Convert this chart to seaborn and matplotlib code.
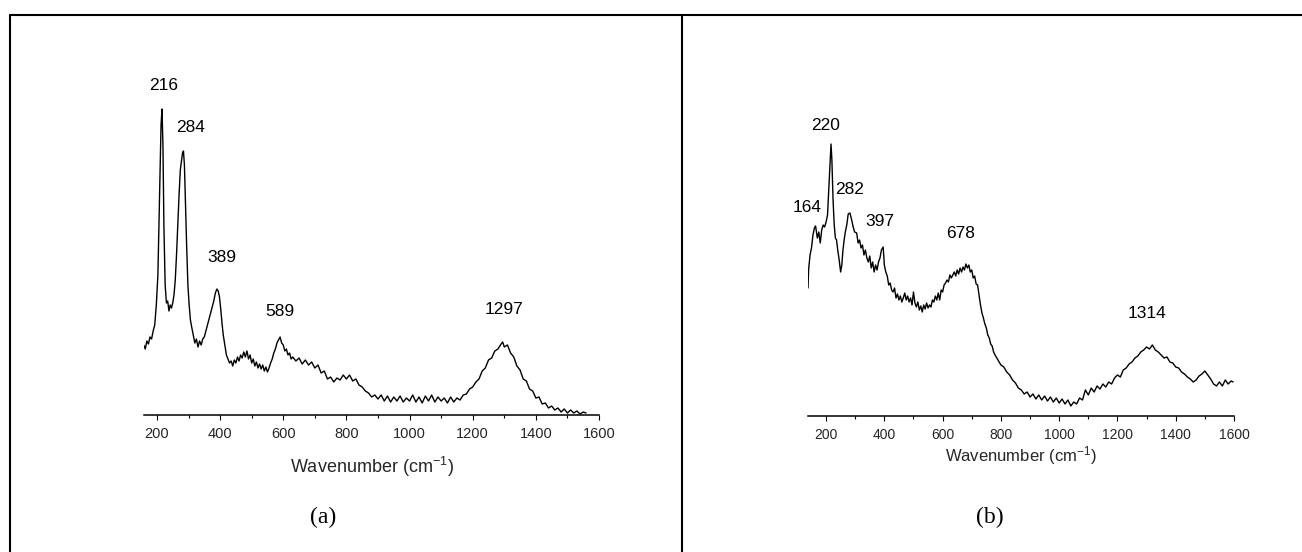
import matplotlib
matplotlib.use("Agg")
import matplotlib.pyplot as plt
from matplotlib.lines import Line2D
from matplotlib.ticker import MultipleLocator
import seaborn as sns
import pandas as pd

# ---------------- data (arbitrary intensity units) ----------------
wn_a = [158,163,168,173,178,183,188,193,198,203,207,210,213,216,219,222,226,230,234,238,242,246,250,254,258,262,
        266,270,274,278,281,284,287,290,294,298,302,306,310,315,320,325,330,335,340,345,350,355,360,365,370,375,
        380,385,390,394,398,402,406,410,415,420,425,430,435,440,445,450,455,460,465,470,475,480,485,490,495,500,
        505,510,515,520,525,530,535,540,545,550,555,560,565,570,575,580,585,590,595,600,605,610,615,620,625,630,
        640,650,660,670,680,690,700,710,720,730,740,750,760,770,780,790,800,810,820,830,840,850,860,870,880,890,
        900,910,920,930,940,950,960,970,980,990,1000,1010,1020,1030,1040,1050,1060,1070,1080,1090,1100,1110,1120,
        1130,1140,1150,1160,1170,1180,1190,1200,1210,1220,1230,1240,1250,1260,1270,1280,1290,1295,1300,1310,1320,
        1330,1340,1350,1360,1370,1380,1390,1400,1410,1420,1430,1440,1450,1460,1470,1480,1490,1500,1510,1520,1530,
        1540,1550,1559]
int_a = [70,66,74,71,78,76,84,90,110,140,200,250,290,306,270,190,130,112,114,104,110,107,112,120,135,160,
         190,220,245,255,262,264,250,215,170,130,110,95,88,80,72,76,68,74,70,76,78,84,90,96,102,108,
         114,122,126,124,118,106,92,80,70,60,56,52,54,49,55,52,58,54,60,57,63,58,64,56,60,52,
         56,49,53,47,51,46,50,44,48,43,47,52,56,62,66,72,75,78,72,70,64,66,60,62,56,58,
         54,57,51,55,50,53,47,50,42,44,36,38,33,37,35,40,36,40,34,36,30,28,24,22,18,20,
         16,20,14,19,13,18,14,19,13,17,14,20,13,18,12,19,14,20,13,18,14,17,12,
         18,13,17,15,20,21,26,28,33,36,44,47,55,57,64,66,71,73,68,70,62,
         58,49,45,36,34,26,24,17,18,11,12,7,9,5,7,3,6,2,5,2,4,
         1,3,2]

wn_b = [138,140,145,150,155,160,164,170,175,180,185,190,195,200,205,210,214,217,220,224,228,232,236,240,245,250,
        254,258,262,266,271,276,282,288,293,298,305,310,315,320,325,330,335,340,345,350,355,360,365,370,375,380,
        385,390,396,400,405,410,415,420,425,430,435,440,445,450,455,460,465,470,475,480,485,490,495,500,505,510,
        515,520,525,530,535,540,545,550,555,560,565,570,575,580,585,590,595,600,605,610,615,620,625,630,640,645,
        650,655,660,665,670,675,680,685,690,695,700,705,710,715,720,725,730,735,740,745,750,755,760,765,770,775,
        780,790,800,810,820,830,840,850,860,870,880,890,900,910,920,930,940,950,960,970,980,990,1000,1010,1020,
        1030,1040,1050,1060,1070,1080,1090,1100,1110,1120,1130,1140,1150,1160,1170,1180,1190,1200,1210,1220,1230,
        1240,1250,1260,1270,1280,1290,1300,1310,1320,1330,1340,1350,1360,1370,1380,1390,1400,1410,1420,1430,1440,
        1450,1460,1470,1480,1490,1500,1510,1520,1530,1540,1550,1560,1570,1580,1590,1597]
int_b = [128,146,161,168,181,188,190,178,184,173,186,191,189,194,201,231,256,272,256,216,191,178,176,166,156,144,
         151,166,176,184,191,202,203,196,189,184,183,173,176,168,171,161,166,158,154,160,148,154,144,151,146,154,
         158,166,169,151,144,140,131,133,126,124,128,118,122,116,120,114,118,123,116,120,114,118,111,124,113,109,
         114,106,110,104,111,107,113,108,111,109,116,114,120,116,123,116,126,124,131,133,136,134,141,138,144,140,
         146,142,148,144,149,146,152,148,151,144,146,138,140,132,131,121,111,103,98,92,88,81,78,72,70,64,
         61,56,51,49,44,41,36,33,28,26,22,24,19,22,17,21,16,20,15,19,14,18,13,17,12,
         16,10,14,12,18,16,26,21,28,24,30,27,32,29,34,32,38,41,39,46,48,
         52,54,58,60,64,66,69,67,71,66,64,61,58,59,54,53,49,48,44,42,39,
         37,34,36,40,42,45,41,37,32,30,34,30,36,32,35,34]

peaks_a = ["216", "284", "389", "589", "1297"]
peak_lab_x_a = [222, 308, 406, 590, 1298]
peak_lab_y_a = [330, 287, 158, 103, 106]

peaks_b = ["164", "220", "282", "397", "678", "1314"]
peak_lab_x_b = [135, 197, 279, 385, 660, 1302]
peak_lab_y_b = [209, 290, 227, 194, 182, 103]

xticks = [200, 400, 600, 800, 1000, 1200, 1400, 1600]
xlabel = "Wavenumber (cm$^{-1}$)"
captions = ["(a)", "(b)"]

# ---------------- style ----------------
sns.set_theme(style="white")
plt.rcParams["font.family"] = ["Liberation Sans", "DejaVu Sans"]
plt.rcParams["mathtext.default"] = "regular"

W, H = 1302, 552
fig = plt.figure(figsize=(W / 100, H / 100), dpi=100)
fig.patch.set_facecolor("white")


def ax_rect(left, right, top, bottom):
    return [left / W, 1 - bottom / H, (right - left) / W, (bottom - top) / H]


panels = [
    dict(rect=ax_rect(144, 599, 40, 415), xlim=(159, 1600), ylim=(0, 375), wn=wn_a, inten=int_a,
         labels=peaks_a, lx=peak_lab_x_a, ly=peak_lab_y_a, xl_size=13, xl_y=-0.107, tick_size=10.5,
         cap_x=323),
    dict(rect=ax_rect(808, 1234, 40, 416), xlim=(138, 1600), ylim=(0, 376), wn=wn_b, inten=int_b,
         labels=peaks_b, lx=peak_lab_x_b, ly=peak_lab_y_b, xl_size=12, xl_y=-0.075, tick_size=10,
         cap_x=990),
]

for i, p in enumerate(panels):
    ax = fig.add_axes(p["rect"])
    df = pd.DataFrame({"wn": p["wn"], "I": p["inten"]})
    sns.lineplot(data=df, x="wn", y="I", ax=ax, color="black", lw=1.0, estimator=None, sort=True)
    ax.set_xlim(*p["xlim"])
    ax.set_ylim(*p["ylim"])
    ax.set_facecolor("none")
    for s in ["left", "right", "top"]:
        ax.spines[s].set_visible(False)
    ax.spines["bottom"].set_color("black")
    ax.spines["bottom"].set_linewidth(1.1)
    ax.set_yticks([])
    ax.set_ylabel("")
    ax.set_xticks(xticks)
    ax.xaxis.set_minor_locator(MultipleLocator(100))
    ax.tick_params(axis="x", which="major", direction="out", length=3.8, width=0.8, color="black",
                   labelsize=p["tick_size"], pad=4.5, bottom=True)
    ax.tick_params(axis="x", which="minor", direction="out", length=2.4, width=0.8, color="black",
                   bottom=True)
    ax.set_xlabel(xlabel, fontsize=p["xl_size"])
    ax.xaxis.set_label_coords(0.5, p["xl_y"])
    for lab, x, y in zip(p["labels"], p["lx"], p["ly"]):
        ax.text(x, y, lab, ha="center", va="center", fontsize=12.5, color="black")
    fig.text(p["cap_x"] / W, 1 - 517 / H, captions[i], ha="center", va="center",
             fontsize=17, family="Liberation Serif", color="black")

# table-like frame lines
lw_frame = 1.5
fig.add_artist(Line2D([10 / W, 1.0], [1 - 15 / H, 1 - 15 / H], transform=fig.transFigure,
                      color="black", lw=lw_frame))
fig.add_artist(Line2D([10 / W, 10 / W], [1 - 15 / H, 0.0], transform=fig.transFigure,
                      color="black", lw=lw_frame))
fig.add_artist(Line2D([682 / W, 682 / W], [1 - 15 / H, 0.0], transform=fig.transFigure,
                      color="black", lw=lw_frame))

fig.savefig("out.png", dpi=100, facecolor="white")
